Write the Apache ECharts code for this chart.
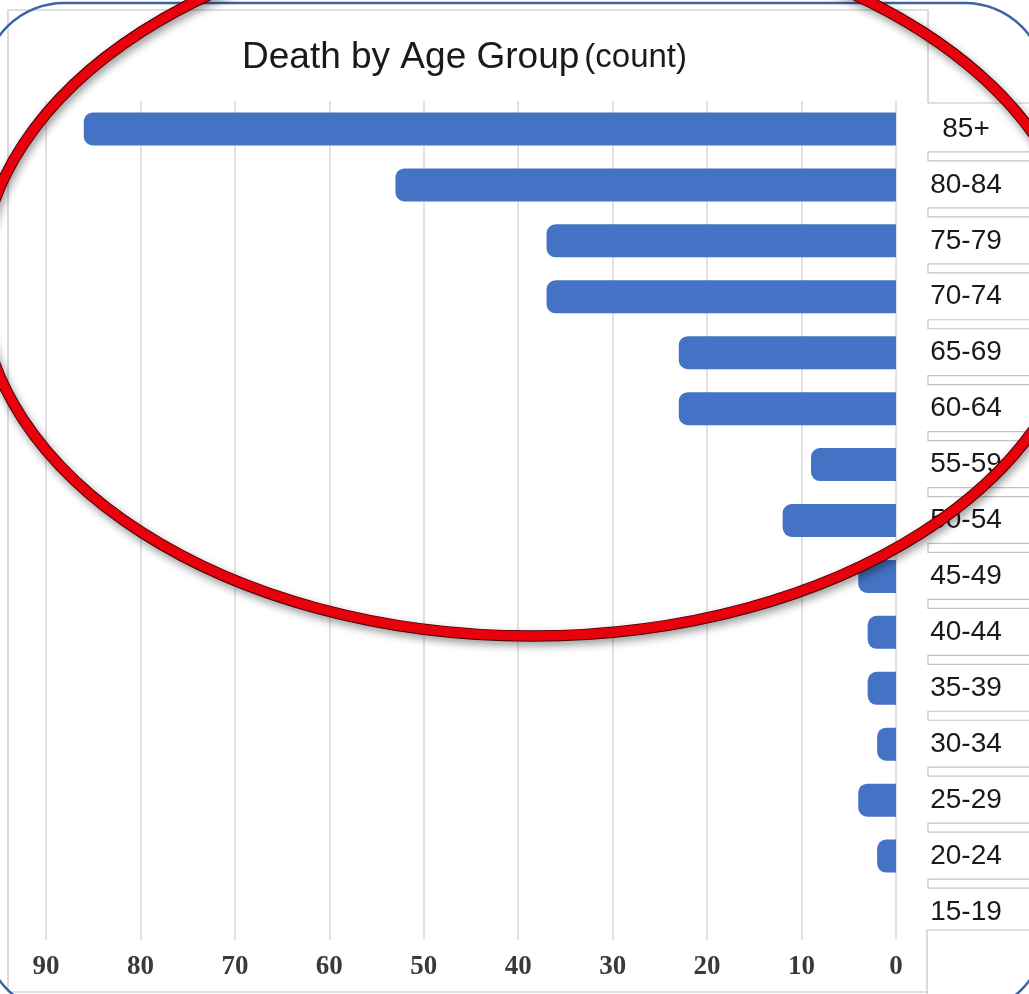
<!DOCTYPE html>
<html>
<head>
<meta charset="utf-8">
<script src="https://cdn.jsdelivr.net/npm/echarts@6/dist/echarts.min.js"></script>
<style>
html,body{margin:0;padding:0;background:#fff;}
#c{width:1029px;height:994px;}
</style>
</head>
<body>
<div id="c"></div>
<script>
// ---- data ----
const categories = ['85+','80-84','75-79','70-74','65-69','60-64','55-59','50-54','45-49','40-44','35-39','30-34','25-29','20-24','15-19'];
const deaths = [86, 53, 37, 37, 23, 23, 9, 12, 4, 3, 3, 2, 4, 2, 0];
const axisMin = 0, axisMax = 90, axisStep = 10;
const titleMain = 'Death by Age Group';
const titleSub = '(count)';

const chart = echarts.init(document.getElementById('c'), null, {renderer: 'canvas'});

const option = {
  animation: false,
  backgroundColor: '#ffffff',
  title: {
    text: '{a|' + titleMain + '} {b|' + titleSub + '}',
    left: 242,
    top: 39,
    padding: 0,
    textStyle: {
      fontWeight: 'normal',
      rich: {
        a: {fontFamily: 'Liberation Sans', fontSize: 37, fontWeight: 'normal', color: '#1a1a1a'},
        b: {fontFamily: 'Liberation Sans', fontSize: 33, fontWeight: 'normal', color: '#1a1a1a'}
      }
    }
  },
  grid: {left: 46, right: 133, top: 101, bottom: 54, containLabel: false},
  xAxis: {
    type: 'value',
    inverse: true,
    min: axisMin,
    max: axisMax,
    interval: axisStep,
    axisLine: {show: false},
    axisTick: {show: false},
    splitLine: {show: true, lineStyle: {color: '#d9d9d9', width: 1.5}},
    axisLabel: {
      margin: 14,
      fontFamily: 'Liberation Serif',
      fontSize: 27,
      fontWeight: 'bold',
      color: '#3a3a3a'
    }
  },
  yAxis: {
    type: 'category',
    inverse: true,
    position: 'right',
    data: categories,
    axisLine: {show: false},
    axisTick: {show: false},
    splitLine: {show: false},
    axisLabel: {
      margin: 70,
      align: 'center',
      fontFamily: 'Liberation Sans',
      fontSize: 28,
      color: '#1a1a1a'
    }
  },
  series: [{
    type: 'bar',
    data: deaths,
    barWidth: 33,
    itemStyle: {color: '#4472c4', borderRadius: [9, 0, 0, 9]}
  }]
};
chart.setOption(option);

// ---- decorations (screenshot frame, separator cells, annotation) ----
const gfx = [];
const gray = '#c4c4c4';
gfx.push({type:'polyline', z:1, shape:{points:[[928,103],[1040,103]]}, style:{stroke:gray, lineWidth:1.2, fill:null}, silent:true});
gfx.push({type:'polyline', z:1, shape:{points:[[928,103],[928,10],[8,10],[8,992],[927,992]]}, style:{stroke:gray, lineWidth:1.2, fill:null}, silent:true});
gfx.push({type:'polyline', z:1, shape:{points:[[927,1000],[927,930],[1040,930]]}, style:{stroke:gray, lineWidth:1.2, fill:null}, silent:true});
for (let i = 0; i < categories.length - 1; i++) {
  const y1 = chart.convertToPixel({yAxisIndex: 0}, i);
  const y2 = chart.convertToPixel({yAxisIndex: 0}, i + 1);
  const ym = (y1 + y2) / 2;
  gfx.push({type:'rect', z:1, shape:{x:928, y:ym - 5, width:120, height:9}, style:{stroke:gray, lineWidth:1.2, fill:'#fff'}, silent:true});
}
// blue rounded border
gfx.push({type:'rect', z:50, shape:{x:-16, y:3, width:1061, height:1010, r:80}, style:{stroke:'#3d62a6', lineWidth:2.5, fill:null}, silent:true});
// red ellipse annotation
const ell = {cx:532, cy:282, rx:552, ry:354};
gfx.push({type:'ellipse', z:100, shape:ell, style:{stroke:'#4a0000', lineWidth:11.5, fill:null, shadowBlur:8, shadowColor:'rgba(0,0,0,0.4)', shadowOffsetX:2, shadowOffsetY:4}, silent:true});
gfx.push({type:'ellipse', z:101, shape:ell, style:{stroke:'#e8000c', lineWidth:9.5, fill:null}, silent:true});

chart.setOption({graphic: {elements: gfx}});
</script>
</body>
</html>
